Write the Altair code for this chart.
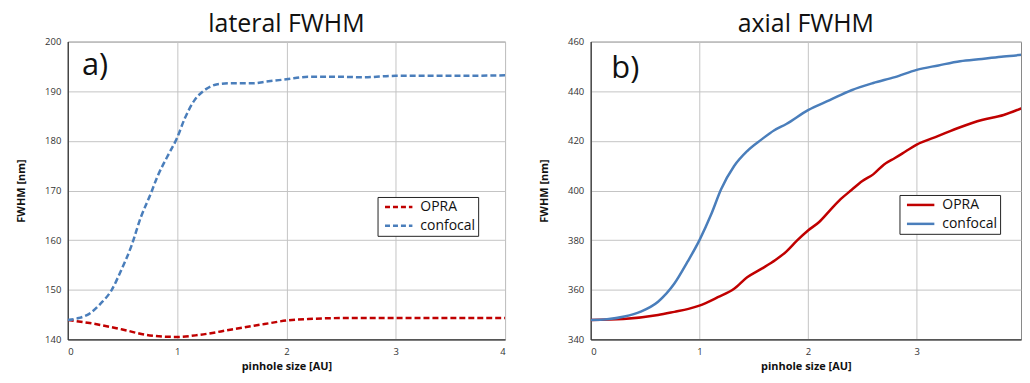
import altair as alt
import pandas as pd

# ---------- data ----------
lat_conf_x = [0, 0.1, 0.2, 0.3, 0.4, 0.49, 0.58, 0.67, 0.76, 0.82, 0.91, 1.0, 1.07, 1.16, 1.25, 1.37, 1.5, 1.7, 1.8, 2.0, 2.2, 2.5, 2.7, 3.0, 3.5, 4.0]
lat_conf_y = [143.9, 144.3, 145.2, 147.2, 149.9, 154.0, 158.7, 164.7, 169.4, 172.8, 176.8, 180.6, 184.5, 188.2, 190.2, 191.4, 191.6, 191.6, 191.9, 192.4, 192.9, 192.9, 192.8, 193.1, 193.1, 193.2]
lat_opra_x = [0, 0.2, 0.5, 0.75, 1.0, 1.2, 1.5, 1.8, 2.0, 2.2, 2.5, 3.0, 4.0]
lat_opra_y = [143.9, 143.3, 142.0, 140.8, 140.5, 140.9, 142.0, 143.1, 143.8, 144.1, 144.3, 144.3, 144.3]

ax_conf_x = [0, 0.15, 0.31, 0.46, 0.62, 0.77, 0.89, 1.0, 1.11, 1.2, 1.32, 1.44, 1.57, 1.69, 1.8, 2.0, 2.2, 2.4, 2.6, 2.8, 3.0, 3.2, 3.4, 3.6, 3.8, 4.0]
ax_conf_y = [347.8, 348.1, 349.2, 351.2, 355.2, 362.5, 371.2, 379.9, 390.5, 400.5, 409.9, 415.9, 420.5, 424.3, 426.8, 432.4, 436.4, 440.4, 443.3, 445.7, 448.6, 450.4, 452.1, 453.0, 454.0, 454.8]
ax_opra_x = [0, 0.3, 0.62, 0.77, 0.9, 1.0, 1.17, 1.32, 1.44, 1.57, 1.7, 1.8, 1.9, 2.0, 2.1, 2.2, 2.3, 2.4, 2.5, 2.6, 2.7, 2.8, 2.9, 3.0, 3.2, 3.4, 3.6, 3.8, 4.0]
ax_opra_y = [347.8, 348.2, 349.8, 351.1, 352.3, 353.6, 357.0, 360.4, 365.0, 368.4, 372.0, 375.4, 379.9, 383.9, 387.2, 391.9, 396.5, 400.2, 403.8, 406.5, 410.5, 413.1, 415.8, 418.5, 422.0, 425.5, 428.4, 430.4, 433.8]

series_names = ["OPRA", "confocal"]
series_colors = ["#C00000", "#4A7EBB"]
panel_titles = ["lateral FWHM", "axial FWHM"]
panel_labels = ["a)", "b)"]

FONT = "Open Sans"


def frame(xs_list, ys_list):
    rows = []
    for name, xs, ys in zip(series_names, xs_list, ys_list):
        for i, (x, y) in enumerate(zip(xs, ys)):
            rows.append({"x": x, "y": y, "series": name, "order": i})
    return pd.DataFrame(rows)


lat_df = frame([lat_opra_x, lat_conf_x], [lat_opra_y, lat_conf_y])
ax_df = frame([ax_opra_x, ax_conf_x], [ax_opra_y, ax_conf_y])


def panel(df, xdom, ydom, ystep, dash, label, lx, ly, title, width, legx, legy):
    xaxis = alt.Axis(title="pinhole size [AU]", values=[0, 1, 2, 3, 4], format="d")
    yaxis = alt.Axis(title="FWHM [nm]", values=list(range(ydom[0], ydom[1] + 1, ystep)), format="d")
    mark_kw = dict(strokeWidth=2.5, interpolate="monotone", clip=True)
    # symbol path: from the symbol's left edge to well past it (a 27 px line)
    leg_kw = dict(title=None, orient="none", legendX=legx, legendY=legy,
                  strokeColor="#222", fillColor="white", padding=3, symbolOffset=3,
                  symbolType="M-1,0L4,0", symbolStrokeWidth=2.5, symbolSize=121,
                  labelFontSize=14, labelFont=FONT, labelColor="#111",
                  rowPadding=5, labelOffset=23)
    if dash:
        mark_kw["strokeDash"] = dash
        leg_kw["symbolDash"] = [5, 3]
    lines = alt.Chart(df).mark_line(**mark_kw).encode(
        x=alt.X("x:Q", scale=alt.Scale(domain=xdom, nice=False), axis=xaxis),
        y=alt.Y("y:Q", scale=alt.Scale(domain=ydom, nice=False), axis=yaxis),
        color=alt.Color("series:N", scale=alt.Scale(domain=series_names, range=series_colors),
                        legend=alt.Legend(**leg_kw)),
        detail="series:N",
        order="order:Q",
    )
    txt = alt.Chart(pd.DataFrame({"x": [lx], "y": [ly], "t": [label]})).mark_text(
        align="left", baseline="alphabetic", fontSize=31, font=FONT, color="#111"
    ).encode(x="x:Q", y="y:Q", text="t:N")
    return alt.layer(lines, txt).properties(
        width=width, height=299,
        title=alt.TitleParams(title, fontSize=25, font=FONT, fontWeight="normal", color="#111",
                              offset=0, frame="group"),
    )


left = panel(lat_df, [0, 4], [140, 200], 10, [6, 3], panel_labels[0], 0.13, 193.2, panel_titles[0], 439, 311, 156)
right = panel(ax_df, [0, 3.96], [340, 460], 20, None, panel_labels[1], 0.19, 445.5, panel_titles[1], 432, 310, 154)

chart = alt.hconcat(left, right, spacing=32).resolve_scale(color="independent").resolve_legend(color="independent").properties(
    padding={"left": 7, "top": 2, "right": 0, "bottom": 0}
).configure_axis(
    gridColor="#c4c4c4", domainColor="#333", domainWidth=1.2, ticks=False,
    labelFont=FONT, labelFontSize=9.5, labelColor="#333", labelPadding=7,
    titleFont=FONT, titleFontSize=11, titleFontWeight="bold", titleColor="#111",
).configure_axisY(titlePadding=18).configure_axisX(labelPadding=7, titlePadding=5).configure_view(
    stroke="#888"
)

chart.save("out.html", embed_options={"renderer": "svg", "actions": False})
